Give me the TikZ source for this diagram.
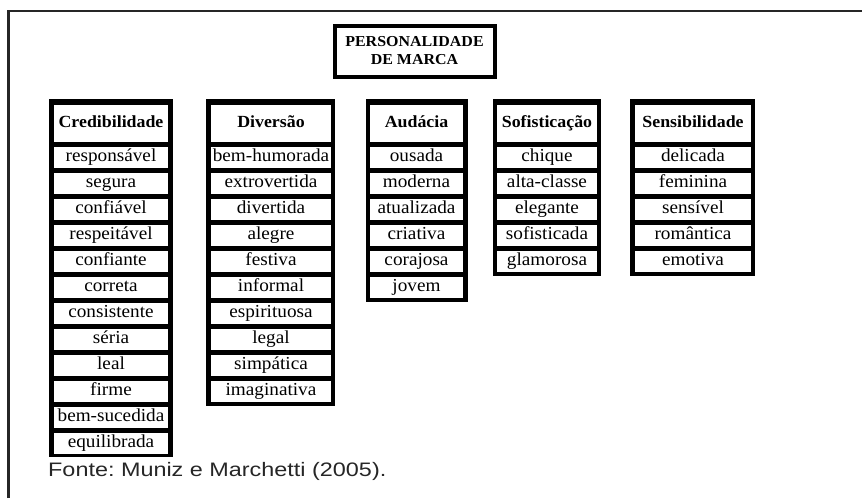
\documentclass[tikz,border=0pt]{standalone}
\usepackage{fontspec}
\setmainfont{Liberation Serif}
\newfontfamily\cellfont[FakeStretch=1.05]{Liberation Serif}
\newfontfamily\fontesans{Liberation Sans}
\frenchspacing
\begin{document}
\begin{tikzpicture}[x=1pt,y=-1pt,
  headcell/.style={fill=white,inner sep=0pt,minimum height=37pt,text height=12.5pt,text depth=4.5pt,font=\cellfont\fontsize{17}{20}\selectfont\bfseries},
  itemcell/.style={fill=white,inner sep=0pt,minimum height=21pt,text height=13pt,text depth=4.5pt,font=\cellfont\fontsize{18.3}{20}\selectfont},
  titlebox/.style={draw,line width=4pt,fill=white,inner sep=0pt,minimum width=160pt,minimum height=51pt,align=center,font=\cellfont\fontsize{15.2}{18}\selectfont\bfseries}]
\useasboundingbox (0,0) rectangle (862,498);
\draw[line width=2.5pt,black!85] (8.5,498) -- (8.5,11) -- (862,11);
\node[titlebox] (title) at (414.5,51) {PERSONALIDADE\\DE MARCA};
% black frames behind the columns
\fill (49,99) rectangle (173,457);
\fill (206,99) rectangle (335,406);
\fill (366,99) rectangle (468,302);
\fill (493,99) rectangle (601,276);
\fill (630,99) rectangle (755,276);
% Credibilidade
\node[headcell,minimum width=114pt] (cred) at (111,123.5) {Credibilidade};
\node[itemcell,minimum width=114pt] (cred1) at (111,157.5) {responsável};
\node[itemcell,minimum width=114pt] (cred2) at (111,183.5) {segura};
\node[itemcell,minimum width=114pt] (cred3) at (111,209.5) {confiável};
\node[itemcell,minimum width=114pt] (cred4) at (111,235.5) {respeitável};
\node[itemcell,minimum width=114pt] (cred5) at (111,261.5) {confiante};
\node[itemcell,minimum width=114pt] (cred6) at (111,287.5) {correta};
\node[itemcell,minimum width=114pt] (cred7) at (111,313.5) {consistente};
\node[itemcell,minimum width=114pt] (cred8) at (111,339.5) {séria};
\node[itemcell,minimum width=114pt] (cred9) at (111,365.5) {leal};
\node[itemcell,minimum width=114pt] (cred10) at (111,391.5) {firme};
\node[itemcell,minimum width=114pt] (cred11) at (111,417.5) {bem-sucedida};
\node[itemcell,minimum width=114pt] (cred12) at (111,443.5) {equilibrada};
% Diversão
\node[headcell,minimum width=120pt] (div) at (271,123.5) {Diversão};
\node[itemcell,minimum width=120pt] (div1) at (271,157.5) {bem-humorada};
\node[itemcell,minimum width=120pt] (div2) at (271,183.5) {extrovertida};
\node[itemcell,minimum width=120pt] (div3) at (271,209.5) {divertida};
\node[itemcell,minimum width=120pt] (div4) at (271,235.5) {alegre};
\node[itemcell,minimum width=120pt] (div5) at (271,261.5) {festiva};
\node[itemcell,minimum width=120pt] (div6) at (271,287.5) {informal};
\node[itemcell,minimum width=120pt] (div7) at (271,313.5) {espirituosa};
\node[itemcell,minimum width=120pt] (div8) at (271,339.5) {legal};
\node[itemcell,minimum width=120pt] (div9) at (271,365.5) {simpática};
\node[itemcell,minimum width=120pt] (div10) at (271,391.5) {imaginativa};
% Audácia
\node[headcell,minimum width=93pt] (aud) at (416.5,123.5) {Audácia};
\node[itemcell,minimum width=93pt] (aud1) at (416.5,157.5) {ousada};
\node[itemcell,minimum width=93pt] (aud2) at (416.5,183.5) {moderna};
\node[itemcell,minimum width=93pt] (aud3) at (416.5,209.5) {atualizada};
\node[itemcell,minimum width=93pt] (aud4) at (416.5,235.5) {criativa};
\node[itemcell,minimum width=93pt] (aud5) at (416.5,261.5) {corajosa};
\node[itemcell,minimum width=93pt] (aud6) at (416.5,287.5) {jovem};
% Sofisticação
\node[headcell,minimum width=100pt] (sof) at (547,123.5) {Sofisticação};
\node[itemcell,minimum width=100pt] (sof1) at (547,157.5) {chique};
\node[itemcell,minimum width=100pt] (sof2) at (547,183.5) {alta-classe};
\node[itemcell,minimum width=100pt] (sof3) at (547,209.5) {elegante};
\node[itemcell,minimum width=100pt] (sof4) at (547,235.5) {sofisticada};
\node[itemcell,minimum width=100pt] (sof5) at (547,261.5) {glamorosa};
% Sensibilidade
\node[headcell,minimum width=116pt] (sens) at (693,123.5) {Sensibilidade};
\node[itemcell,minimum width=116pt] (sens1) at (693,157.5) {delicada};
\node[itemcell,minimum width=116pt] (sens2) at (693,183.5) {feminina};
\node[itemcell,minimum width=116pt] (sens3) at (693,209.5) {sensível};
\node[itemcell,minimum width=116pt] (sens4) at (693,235.5) {romântica};
\node[itemcell,minimum width=116pt] (sens5) at (693,261.5) {emotiva};
\node[anchor=base west,inner sep=0pt,black!85,font=\fontesans\fontsize{19.5}{22}\selectfont] (fonte) at (48,476) {\scalebox{1.2}[1]{Fonte: Muniz e Marchetti (2005).}};
\end{tikzpicture}
\end{document}
